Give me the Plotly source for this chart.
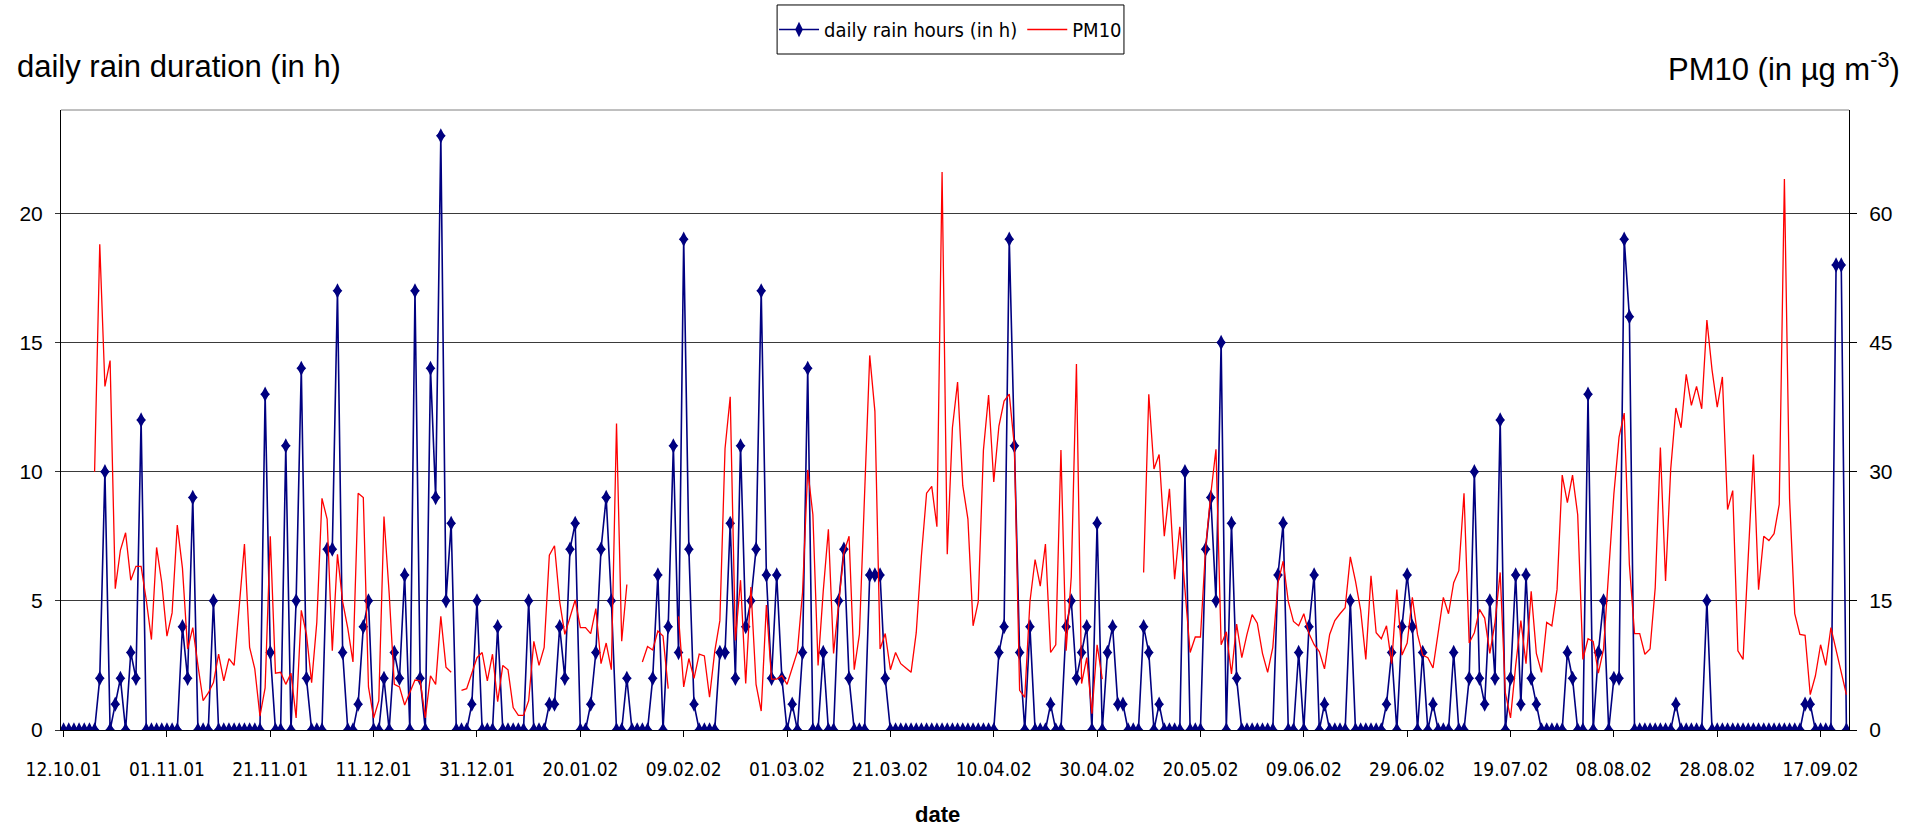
import pandas as pd
import plotly.graph_objects as go

# Daily rain duration (hours), one value per day starting 12.10.01
rain_hours = [
    0, 0, 0, 0, 0, 0, 0, 2, 10, 0, 1, 2, 0, 3, 2, 12,
    0, 0, 0, 0, 0, 0, 0, 4, 2, 9, 0, 0, 0, 5,
    0, 0, 0, 0, 0, 0, 0, 0, 0, 13, 3, 0, 0, 11, 0, 5, 14, 2, 0, 0, 0, 7, 7, 17, 3,
    0, 0, 1, 4, 5, 0, 0, 2, 0, 3, 2, 6, 0, 17, 2, 0, 14, 9, 23, 5, 8,
    0, 0, 0, 1, 5, 0, 0, 0, 4, 0, 0, 0, 0, 0, 5, 0, 0, 0, 1, 1, 4, 2, 7, 8,
    0, 0, 1, 3, 7, 9, 5, 0, 0, 2, 0, 0, 0, 0, 2, 6, 0, 4, 11, 3, 19, 7, 1,
    0, 0, 0, 0, 3, 3, 8, 2, 11, 4, 5, 7, 17, 6, 2, 6, 2, 0, 1, 0, 3, 14,
    0, 0, 3, 0, 0, 5, 7, 2, 0, 0, 0, 6, 6, 6, 2,
    0, 0, 0, 0, 0, 0, 0, 0, 0, 0, 0, 0, 0, 0, 0, 0, 0, 0, 0, 0, 0,
    3, 4, 19, 11, 3, 0, 4, 0, 0, 0, 1, 0, 0, 4, 5, 2, 3, 4, 0, 8, 0, 3, 4, 1, 1,
    0, 0, 0, 4, 3, 0, 1, 0, 0, 0, 0, 10, 0, 0, 0, 7, 9, 5, 15, 0, 8, 2,
    0, 0, 0, 0, 0, 0, 0, 6, 8, 0, 0, 3, 0, 4, 6, 0, 1,
    0, 0, 0, 0, 5, 0, 0, 0, 0, 0, 0, 1, 3, 0, 4, 6, 4, 0, 3, 0, 1, 0, 0, 0,
    3, 0, 0, 2, 10, 2, 1, 5, 2, 12, 0, 2, 6, 1, 6, 2, 1, 0, 0, 0, 0, 0,
    3, 2, 0, 0, 13, 0, 3, 5, 0, 2, 2, 19, 16,
    0, 0, 0, 0, 0, 0, 0, 0, 1, 0, 0, 0, 0, 0, 5,
    0, 0, 0, 0, 0, 0, 0, 0, 0, 0, 0, 0, 0, 0, 0, 0, 0, 0, 1, 1, 0, 0, 0, 0, 18, 18, 0,
]

# Daily PM10 concentration (µg m-3); None marks days without a measurement
pm10 = [
    None, None, None, None, None, None, 30.0, 56.4, 39.9, 42.9, 16.4, 20.9, 22.9, 17.4, 19.0, 19.0,
    15.1, 10.5, 21.2, 17.1, 10.9, 13.6, 23.8, 18.8, 9.4, 11.9, 7.5, 3.4, 4.3, 5.5,
    8.8, 5.7, 8.3, 7.5, 14.4, 21.6, 9.6, 7.1, 1.6, 4.9, 22.5, 6.6, 6.7, 5.3, 6.6, 1.4, 13.9, 11.1, 5.5, 12.5,
    26.9, 24.5, 9.2, 20.4, 14.9, 11.8, 7.9, 27.5, 27.0, 5.0, 1.4, 3.4, 24.8, 15.9, 5.3, 5.0, 2.9, 4.3, 5.8, 5.7,
    1.4, 6.3, 5.3, 13.2, 7.3, 6.7, None, 4.6, 4.8, 6.6, 8.4, 9.0, 5.7, 8.8, 3.3, 7.5, 7.0, 2.6, 1.7, 1.7,
    3.4, 10.3, 7.5, 9.6, 20.3, 21.4, 14.9, 11.1, 13.0, 15.1, 11.9, 11.9, 11.2, 14.1, 7.7, 10.1, 7.0, 35.6, 10.3, 16.9,
    None, None, 7.9, 9.7, 9.3, 11.5, 10.9, 4.8, None, 13.2, 5.0, 8.3, 6.0, 8.8, 8.6, 3.8, 9.1, 12.7, 32.7, 38.7,
    10.4, 17.4, 5.4, 16.6, 5.3, 2.2, 14.5, 5.9, 5.9, 6.3, 5.3, 7.2, 9.1, 16.0, 30.2, 25.0, 7.5, 16.1, 23.3, 8.9,
    14.7, 20.6, 22.5, 7.0, 11.1, 27.0, 43.5, 37.0, 9.4, 11.2, 7.0, 9.0, 7.7, 7.2, 6.7, 11.3, 20.2, 27.5, 28.3, 23.6,
    64.8, 20.4, 35.1, 40.4, 28.4, 24.5, 12.1, 14.9, 32.5, 38.9, 28.8, 35.3, 38.2, 39.0, 32.9, 4.6, 3.8, 14.9, 19.8, 16.7,
    21.6, 9.0, 9.9, 32.5, 9.2, 17.8, 42.5, 5.4, 8.4, 1.9, 9.9, 5.9, None, None, None, None, None, None, None, 18.3,
    39.0, 30.3, 32.0, 22.5, 28.0, 17.5, 23.6, 16.3, 9.0, 10.8, 10.8, 21.2, 27.4, 32.6, 9.9, 11.4, 6.5, 12.3, 8.4, 11.1,
    13.4, 12.4, 8.9, 6.7, 9.6, 17.1, 19.6, 14.9, 12.6, 12.1, 13.5, 11.2, 9.9, 9.1, 7.1, 11.1, 12.7, 13.5, 14.2, 20.1,
    17.3, 13.9, 8.2, 17.9, 11.3, 10.6, 12.1, 7.7, 16.3, 8.7, 10.1, 15.4, 11.1, 8.7, 8.4, 7.2, 11.3, 15.4, 13.5, 17.1,
    18.5, 27.5, 10.1, 11.3, 14.0, 13.0, 8.9, 12.5, 18.3, 4.3, 1.4, 7.5, 12.7, 7.7, 16.1, 8.9, 6.7, 12.5, 12.1, 16.3,
    29.6, 26.4, 29.6, 25.0, 8.2, 10.6, 10.3, 6.6, 9.4, 18.3, 27.4, 34.0, 36.8, 19.2, 11.2, 11.2, 8.8, 9.4, 16.5, 32.8,
    17.3, 30.3, 37.4, 35.1, 41.3, 37.7, 39.9, 37.3, 47.6, 41.8, 37.5, 41.0, 25.6, 27.8, 9.2, 8.2, 20.4, 32.0, 16.3, 22.5,
    22.0, 22.8, 26.2, 64.0, 26.9, 13.5, 11.1, 11.0, 4.1, 6.3, 9.9, 7.5, 11.9, 9.3, 6.7, 4.1,
]

tick_labels = [
    "12.10.01", "01.11.01", "21.11.01", "11.12.01", "31.12.01", "20.01.02",
    "09.02.02", "01.03.02", "21.03.02", "10.04.02", "30.04.02", "20.05.02",
    "09.06.02", "29.06.02", "19.07.02", "08.08.02", "28.08.02", "17.09.02",
]

dates = pd.date_range("2001-10-12", periods=len(rain_hours), freq="D")
tick_dates = pd.to_datetime(tick_labels, format="%d.%m.%y")

REGULAR = "Liberation Sans, Arial, sans-serif"
NARROW = "Liberation Sans Narrow, Arial Narrow, DejaVu Sans Condensed, Liberation Sans, sans-serif"
NAVY = "#000080"

fig = go.Figure()
fig.add_trace(go.Scatter(
    x=dates, y=rain_hours, name="daily rain hours (in h)",
    mode="lines+markers",
    line=dict(color=NAVY, width=1.6),
    marker=dict(symbol="diamond-tall", size=11, color=NAVY, line=dict(width=0)),
    yaxis="y",
))
# wider diamond layered on the same points gives the markers their fuller body
fig.add_trace(go.Scatter(
    x=dates, y=rain_hours, name="daily rain hours (in h)",
    mode="markers", showlegend=False, hoverinfo="skip",
    marker=dict(symbol="diamond", size=7.5, color=NAVY, line=dict(width=0)),
    yaxis="y",
))
fig.add_trace(go.Scatter(
    x=dates, y=pm10, name="PM10",
    mode="lines", connectgaps=False,
    line=dict(color="#FF0000", width=1.3),
    yaxis="y2",
))

x_start = dates[0] - pd.Timedelta(hours=12)
x_end = dates[-1] + pd.Timedelta(hours=12)

fig.update_layout(
    width=1914, height=831,
    margin=dict(l=61, r=65, t=110, b=101, autoexpand=False),
    paper_bgcolor="white", plot_bgcolor="white",
    font=dict(family=REGULAR, color="black"),
    showlegend=True,
    legend=dict(
        orientation="h", x=0.4975, xanchor="center", y=1.1298, yanchor="middle",
        borderwidth=0, bgcolor="rgba(0,0,0,0)",
        font=dict(family=NARROW, size=20, color="black"),
        itemwidth=40, tracegroupgap=0,
    ),
    xaxis=dict(
        type="date", range=[x_start, x_end],
        tickvals=tick_dates, ticktext=tick_labels,
        tickfont=dict(family=NARROW, size=19),
        ticks="outside", ticklen=6, tickcolor="black",
        showline=True, linecolor="black", linewidth=1,
        showgrid=False, zeroline=False, ticklabelstandoff=16,
    ),
    yaxis=dict(
        range=[0, 24], tickvals=[0, 5, 10, 15, 20],
        tickfont=dict(family=REGULAR, size=21),
        ticks="outside", ticklen=5, tickcolor="#333333",
        showline=True, linecolor="black", linewidth=1,
        showgrid=True, gridcolor="#3a3a3a", gridwidth=1,
        zeroline=False, ticklabelstandoff=8,
    ),
    yaxis2=dict(
        range=[0, 72], tickvals=[0, 15, 30, 45, 60],
        overlaying="y", side="right",
        tickfont=dict(family=REGULAR, size=21),
        ticks="outside", ticklen=7, tickcolor="black",
        showline=True, linecolor="black", linewidth=1,
        showgrid=False, zeroline=False, ticklabelstandoff=8,
    ),
    shapes=[
        # top edge of the plot frame
        dict(type="line", xref="paper", yref="paper", x0=0, x1=1, y0=1, y1=1,
             line=dict(color="#808080", width=1)),
        # legend frame
        dict(type="rect", xref="paper", yref="paper",
             x0=0.4005, x1=0.5945, y0=1.0903, y1=1.1694,
             line=dict(color="black", width=1), fillcolor="rgba(0,0,0,0)", layer="below"),
    ],
    annotations=[
        dict(text="daily rain duration (in h)", xref="paper", yref="paper",
             x=-0.0255, y=1.07, xanchor="left", yanchor="middle", showarrow=False,
             font=dict(family=REGULAR, size=31, color="black")),
        dict(text="PM10 (in µg m<sup>-3</sup>)", xref="paper", yref="paper",
             x=1.0295, y=1.07, xanchor="right", yanchor="middle", showarrow=False,
             font=dict(family=REGULAR, size=31, color="black")),
        dict(text="<b>date</b>", xref="paper", yref="paper",
             x=0.49, y=-0.1355, xanchor="center", yanchor="middle", showarrow=False,
             font=dict(family=REGULAR, size=22, color="black")),
    ],
)

fig.write_html("out.html")
